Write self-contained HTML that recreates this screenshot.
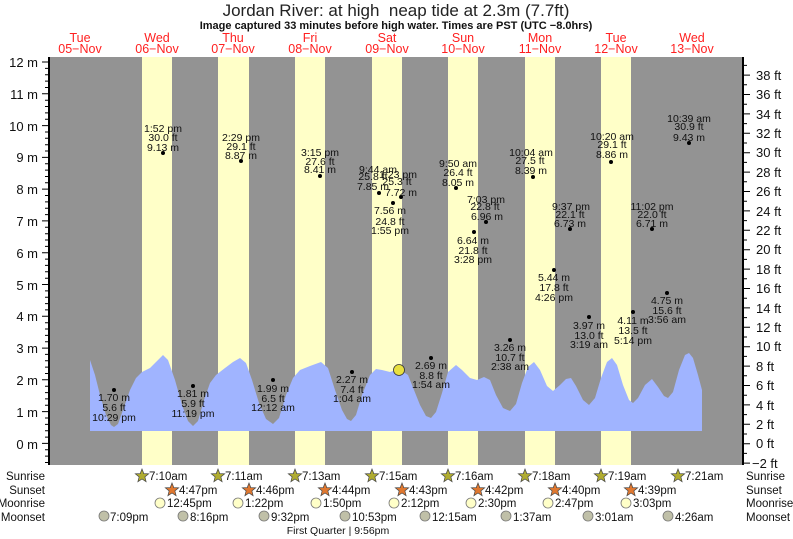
<!DOCTYPE html>
<html><head><meta charset="utf-8"><style>
html,body{margin:0;padding:0;background:#fff;}
svg{display:block;font-family:"Liberation Sans",sans-serif;}
.d{font-size:10.5px;fill:#111;text-anchor:middle;}
.t{font-size:13px;fill:#111;}
.r{font-size:11.5px;fill:#111;}
.day{font-size:12.5px;fill:#ff2020;text-anchor:middle;}
</style></head><body>
<svg width="793" height="539" viewBox="0 0 793 539">
<text x="396" y="16" text-anchor="middle" font-size="17" fill="#222">Jordan River: at high&#160; neap tide at 2.3m (7.7ft)</text>
<text x="396" y="29" text-anchor="middle" font-size="11" font-weight="bold" fill="#111">Image captured 33 minutes before high water. Times are PST (UTC −8.0hrs)</text>
<g class="day">
<text x="80" y="42">Tue</text><text x="80" y="53">05−Nov</text>
<text x="157" y="42">Wed</text><text x="157" y="53">06−Nov</text>
<text x="233" y="42">Thu</text><text x="233" y="53">07−Nov</text>
<text x="310" y="42">Fri</text><text x="310" y="53">08−Nov</text>
<text x="387" y="42">Sat</text><text x="387" y="53">09−Nov</text>
<text x="463" y="42">Sun</text><text x="463" y="53">10−Nov</text>
<text x="540" y="42">Mon</text><text x="540" y="53">11−Nov</text>
<text x="616" y="42">Tue</text><text x="616" y="53">12−Nov</text>
<text x="692" y="42">Wed</text><text x="692" y="53">13−Nov</text>
</g>
<rect x="49" y="57" width="694" height="408" fill="#939393"/>
<g fill="#ffffc8">
<rect x="142" y="57" width="30" height="408"/><rect x="218" y="57" width="31" height="408"/>
<rect x="295" y="57" width="30" height="408"/><rect x="372" y="57" width="30" height="408"/>
<rect x="448" y="57" width="30" height="408"/><rect x="525" y="57" width="30" height="408"/>
<rect x="601" y="57" width="30" height="408"/>
</g>
<polygon fill="#a0b4ff" points="90,360 95,375 100,395 106,415 111,425 114,427 118,424 123,410 130,390 136,378 142,372 150,368 156,362 163,355 168,360 175,380 182,405 188,421 193,426 198,421 204,400 210,383 216,375 225,368 233,362 240,358 246,363 252,380 259,403 266,419 273,424 279,418 286,395 293,378 300,370 310,366 321,362 328,368 335,390 342,410 347,419 351,421 356,415 362,395 370,375 376,369 382,370 390,372 396,370 402,371 408,375 414,390 420,405 426,416 431,418 436,412 442,393 448,372 456,365 462,370 470,378 477,380 484,377 490,380 496,395 503,408 510,411 516,404 522,383 528,367 534,362 540,370 547,386 553,391 560,385 566,379 571,378 576,386 583,400 589,405 595,398 601,378 607,362 612,358 617,365 623,385 629,400 633,403 638,398 645,385 652,379 658,387 664,396 668,398 673,392 679,370 685,355 689,353 693,358 698,375 702,390 702,431 90,431"/>
<line x1="49" y1="57" x2="49" y2="465" stroke="#000" stroke-width="2"/>
<line x1="743" y1="57" x2="743" y2="465" stroke="#000" stroke-width="2"/>
<g stroke="#000" stroke-width="1">
<path d="M42,62H49M42,93.8H49M42,125.6H49M42,157.4H49M42,189.1H49M42,220.9H49M42,252.7H49M42,284.5H49M42,316.3H49M42,348.1H49M42,379.8H49M42,411.6H49M42,443.4H49"/>
<path d="M45,68.4H49M45,74.7H49M45,81.1H49M45,87.5H49M45,100.2H49M45,106.5H49M45,112.9H49M45,119.2H49M45,132H49M45,138.3H49M45,144.7H49M45,151H49M45,163.7H49M45,170.1H49M45,176.5H49M45,182.8H49M45,195.5H49M45,201.9H49M45,208.2H49M45,214.6H49M45,227.3H49M45,233.7H49M45,240H49M45,246.4H49M45,259.1H49M45,265.4H49M45,271.8H49M45,278.2H49M45,290.9H49M45,297.2H49M45,303.6H49M45,309.9H49M45,322.7H49M45,329H49M45,335.4H49M45,341.7H49M45,354.4H49M45,360.8H49M45,367.1H49M45,373.5H49M45,386.2H49M45,392.6H49M45,398.9H49M45,405.3H49M45,418H49M45,424.4H49M45,430.7H49M45,437.1H49M45,449.8H49M45,456.1H49M45,462.5H49"/>
</g>
<g class="t" text-anchor="end">
<text x="38" y="67">12 m</text><text x="38" y="99">11 m</text><text x="38" y="131">10 m</text><text x="38" y="162">9 m</text><text x="38" y="194">8 m</text><text x="38" y="226">7 m</text><text x="38" y="258">6 m</text><text x="38" y="290">5 m</text><text x="38" y="321">4 m</text><text x="38" y="353">3 m</text><text x="38" y="385">2 m</text><text x="38" y="417">1 m</text><text x="38" y="449">0 m</text>
</g>
<g stroke="#000">
<path d="M743,75.1H750M743,94.5H750M743,113.9H750M743,133.3H750M743,152.7H750M743,172.1H750M743,191.5H750M743,210.9H750M743,230.3H750M743,249.7H750M743,269.1H750M743,288.5H750M743,307.9H750M743,327.3H750M743,346.7H750M743,366.1H750M743,385.5H750M743,404.9H750M743,424.3H750M743,443.7H750M743,463.1H750"/>
<path d="M743,65.4H747M743,84.8H747M743,104.2H747M743,123.6H747M743,143H747M743,162.4H747M743,181.8H747M743,201.2H747M743,220.6H747M743,240H747M743,259.4H747M743,278.8H747M743,298.2H747M743,317.6H747M743,337H747M743,356.4H747M743,375.8H747M743,395.2H747M743,414.6H747M743,434H747M743,453.4H747"/>
</g>
<g class="t">
<text x="756" y="80">38 ft</text><text x="756" y="99">36 ft</text><text x="756" y="119">34 ft</text><text x="756" y="138">32 ft</text><text x="756" y="157">30 ft</text><text x="756" y="177">28 ft</text><text x="756" y="196">26 ft</text><text x="756" y="216">24 ft</text><text x="756" y="235">22 ft</text><text x="756" y="254">20 ft</text><text x="756" y="274">18 ft</text><text x="756" y="293">16 ft</text><text x="756" y="313">14 ft</text><text x="756" y="332">12 ft</text><text x="756" y="351">10 ft</text><text x="756" y="371">8 ft</text><text x="756" y="390">6 ft</text><text x="756" y="410">4 ft</text><text x="756" y="429">2 ft</text><text x="756" y="448">0 ft</text><text x="752" y="468">−2 ft</text>
</g>
<g fill="#000">
<circle cx="163" cy="153" r="2"/><circle cx="241" cy="161" r="2"/><circle cx="320" cy="176" r="2"/>
<circle cx="379" cy="193" r="2"/><circle cx="401" cy="197" r="2"/><circle cx="393" cy="203" r="2"/>
<circle cx="456" cy="188" r="2"/><circle cx="486" cy="222" r="2"/><circle cx="474" cy="232" r="2"/>
<circle cx="533" cy="177" r="2"/><circle cx="611" cy="162" r="2"/><circle cx="689" cy="143" r="2"/>
<circle cx="570" cy="229" r="2"/><circle cx="652" cy="229" r="2"/><circle cx="554" cy="270" r="2"/>
<circle cx="667" cy="293" r="2"/><circle cx="589" cy="317" r="2"/><circle cx="633" cy="312" r="2"/>
<circle cx="510" cy="340" r="2"/><circle cx="431" cy="358" r="2"/><circle cx="114" cy="390" r="2"/>
<circle cx="193" cy="386" r="2"/><circle cx="273" cy="380" r="2"/><circle cx="352" cy="372" r="2"/>
</g>
<g class="d">
<text x="163" y="132">1:52 pm</text><text x="163" y="141">30.0 ft</text><text x="163" y="151">9.13 m</text>
<text x="241" y="141">2:29 pm</text><text x="241" y="150">29.1 ft</text><text x="241" y="159">8.87 m</text>
<text x="320" y="156">3:15 pm</text><text x="320" y="165">27.6 ft</text><text x="320" y="173">8.41 m</text>
<text x="378" y="173">9:44 am</text><text x="373" y="180">25.8 ft</text><text x="373" y="190">7.85 m</text>
<text x="398" y="178">1:23 pm</text><text x="397" y="185">25.3 ft</text><text x="401" y="196">7.72 m</text>
<text x="390" y="214">7.56 m</text><text x="390" y="225">24.8 ft</text><text x="390" y="234">1:55 pm</text>
<text x="458" y="167">9:50 am</text><text x="458" y="176">26.4 ft</text><text x="458" y="186">8.05 m</text>
<text x="486" y="203">7:03 pm</text><text x="485" y="210">22.8 ft</text><text x="487" y="220">6.96 m</text>
<text x="473" y="244">6.64 m</text><text x="473" y="254">21.8 ft</text><text x="473" y="263">3:28 pm</text>
<text x="531" y="156">10:04 am</text><text x="530" y="164">27.5 ft</text><text x="531" y="174">8.39 m</text>
<text x="612" y="140">10:20 am</text><text x="612" y="148">29.1 ft</text><text x="612" y="158">8.86 m</text>
<text x="689" y="122">10:39 am</text><text x="689" y="130">30.9 ft</text><text x="689" y="141">9.43 m</text>
<text x="571" y="210">9:37 pm</text><text x="570" y="218">22.1 ft</text><text x="570" y="227">6.73 m</text>
<text x="652" y="210">11:02 pm</text><text x="652" y="218">22.0 ft</text><text x="652" y="227">6.71 m</text>
<text x="554" y="281">5.44 m</text><text x="554" y="291">17.8 ft</text><text x="554" y="301">4:26 pm</text>
<text x="667" y="304">4.75 m</text><text x="667" y="314">15.6 ft</text><text x="667" y="323">3:56 am</text>
<text x="589" y="329">3.97 m</text><text x="589" y="339">13.0 ft</text><text x="589" y="348">3:19 am</text>
<text x="633" y="324">4.11 m</text><text x="633" y="334">13.5 ft</text><text x="633" y="344">5:14 pm</text>
<text x="510" y="351">3.26 m</text><text x="510" y="361">10.7 ft</text><text x="510" y="370">2:38 am</text>
<text x="431" y="369">2.69 m</text><text x="431" y="379">8.8 ft</text><text x="431" y="388">1:54 am</text>
<text x="114" y="401">1.70 m</text><text x="114" y="411">5.6 ft</text><text x="114" y="421">10:29 pm</text>
<text x="193" y="397">1.81 m</text><text x="193" y="407">5.9 ft</text><text x="193" y="417">11:19 pm</text>
<text x="273" y="392">1.99 m</text><text x="273" y="402">6.5 ft</text><text x="273" y="411">12:12 am</text>
<text x="352" y="383">2.27 m</text><text x="352" y="393">7.4 ft</text><text x="352" y="402">1:04 am</text>
</g>
<circle cx="399" cy="370" r="5.5" fill="#e8e040" stroke="#333" stroke-width="0.8"/>
<g class="r" text-anchor="end">
<text x="45" y="480">Sunrise</text><text x="45" y="494">Sunset</text><text x="45" y="507">Moonrise</text><text x="45" y="521">Moonset</text>
</g>
<g class="r">
<text x="746" y="480">Sunrise</text><text x="746" y="494">Sunset</text><text x="746" y="507">Moonrise</text><text x="746" y="521">Moonset</text>
</g>
<defs>
<polygon id="st" points="0,-7 1.8,-2.4 6.7,-2.2 2.9,0.9 4.1,5.7 0,3 -4.1,5.7 -2.9,0.9 -6.7,-2.2 -1.8,-2.4" stroke="#444" stroke-width="0.7"/>
</defs>
<g fill="#b0ac30">
<use href="#st" x="142" y="476"/><use href="#st" x="218" y="476"/><use href="#st" x="295" y="476"/><use href="#st" x="372" y="476"/><use href="#st" x="448" y="476"/><use href="#st" x="525" y="476"/><use href="#st" x="601" y="476"/><use href="#st" x="678" y="476"/>
</g>
<g fill="#e07830">
<use href="#st" x="172" y="490"/><use href="#st" x="249" y="490"/><use href="#st" x="325" y="490"/><use href="#st" x="402" y="490"/><use href="#st" x="478" y="490"/><use href="#st" x="555" y="490"/><use href="#st" x="631" y="490"/>
</g>
<g class="r">
<text x="149" y="480">7:10am</text><text x="225" y="480">7:11am</text><text x="302" y="480">7:13am</text><text x="379" y="480">7:15am</text><text x="455" y="480">7:16am</text><text x="532" y="480">7:18am</text><text x="608" y="480">7:19am</text><text x="685" y="480">7:21am</text>
<text x="179" y="494">4:47pm</text><text x="256" y="494">4:46pm</text><text x="332" y="494">4:44pm</text><text x="409" y="494">4:43pm</text><text x="485" y="494">4:42pm</text><text x="562" y="494">4:40pm</text><text x="638" y="494">4:39pm</text>
</g>
<g fill="#ffffc8" stroke="#777" stroke-width="0.8">
<circle cx="160" cy="503" r="5"/><circle cx="238" cy="503" r="5"/><circle cx="316" cy="503" r="5"/><circle cx="394" cy="503" r="5"/><circle cx="471" cy="503" r="5"/><circle cx="548" cy="503" r="5"/><circle cx="626" cy="503" r="5"/>
</g>
<g fill="#c0c0a8" stroke="#777" stroke-width="0.8">
<circle cx="104" cy="516" r="5"/><circle cx="183" cy="516" r="5"/><circle cx="264" cy="516" r="5"/><circle cx="345" cy="516" r="5"/><circle cx="425" cy="516" r="5"/><circle cx="506" cy="516" r="5"/><circle cx="588" cy="516" r="5"/><circle cx="668" cy="516" r="5"/>
</g>
<g class="r">
<text x="167" y="507">12:45pm</text><text x="245" y="507">1:22pm</text><text x="323" y="507">1:50pm</text><text x="401" y="507">2:12pm</text><text x="478" y="507">2:30pm</text><text x="555" y="507">2:47pm</text><text x="633" y="507">3:03pm</text>
<text x="110" y="521">7:09pm</text><text x="190" y="521">8:16pm</text><text x="271" y="521">9:32pm</text><text x="352" y="521">10:53pm</text><text x="432" y="521">12:15am</text><text x="513" y="521">1:37am</text><text x="595" y="521">3:01am</text><text x="675" y="521">4:26am</text>
</g>
<text x="338" y="534" text-anchor="middle" font-size="10.5" fill="#111">First Quarter | 9:56pm</text>
</svg>
</body></html>
